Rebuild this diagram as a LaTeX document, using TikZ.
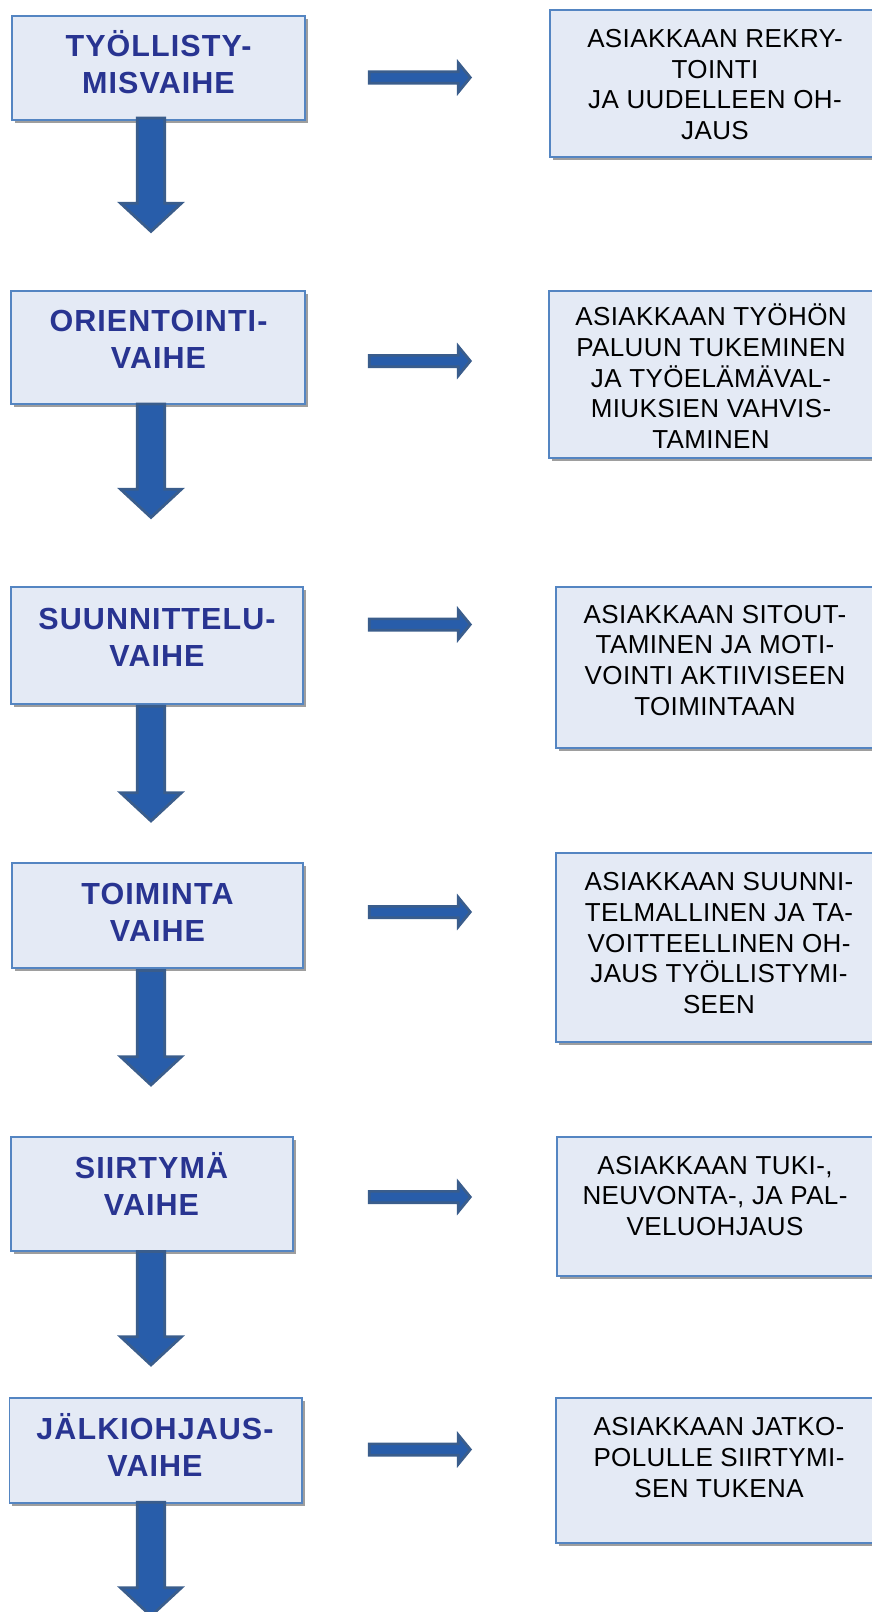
\documentclass[tikz,border=0pt]{standalone}
\usepackage{fontspec}
\setmainfont{Liberation Sans}
\newfontfamily\phasefont[LetterSpace=3.5]{Liberation Sans}
\newfontfamily\descfont[LetterSpace=1.5]{Liberation Sans}
\usetikzlibrary{calc,shadows}
\definecolor{boxfill}{RGB}{228,234,245}
\definecolor{boxline}{RGB}{84,133,194}
\definecolor{shadowgray}{RGB}{158,158,158}
\definecolor{arrfill}{RGB}{40,93,170}
\definecolor{arrline}{RGB}{58,93,140}
\definecolor{phasenavy}{RGB}{40,52,145}
\newcommand\phasedown[2]{%
  \draw[blockarrow] ($(#1)+(-13.7,0)$) -- ($(#1)+(13.7,0)$) -- ($(#2)+(13.7,-28.3)$) -- ($(#2)+(30.5,-28.3)$) -- (#2) -- ($(#2)+(-30.5,-28.3)$) -- ($(#2)+(-13.7,-28.3)$) -- cycle;}
\newcommand\phaseright[2]{%
  \draw[blockarrow] ($(#1)+(0,-5.65)$) -- ($(#2)+(-12,-5.65)$) -- ($(#2)+(-12,-14.65)$) -- (#2) -- ($(#2)+(-12,14.65)$) -- ($(#2)+(-12,5.65)$) -- ($(#1)+(0,5.65)$) -- cycle;}
\begin{document}
\begin{tikzpicture}[x=1bp,y=-1bp,
  phasebox/.style={draw=boxline, line width=1.8bp, fill=boxfill, rectangle, inner sep=0pt,
    drop shadow={shadow xshift=3bp, shadow yshift=-3bp, fill=shadowgray, opacity=1}},
  phasetext/.style={text=phasenavy, font=\phasefont\fontsize{30.5bp}{37bp}\selectfont\bfseries, align=center, inner sep=0pt},
  desctext/.style={text=black, font=\descfont\fontsize{26bp}{30.7bp}\selectfont, align=center, inner sep=0pt},
  blockarrow/.style={draw=arrline, fill=arrfill, line width=2.7bp, line join=miter}
]
\useasboundingbox (0,0) rectangle (871,1612);
\coordinate (ax) at (151,0);

% left phase boxes
\node[phasebox, minimum width=293bp, minimum height=104bp] (L1) at (158.5,68) {};
\node[phasebox, minimum width=294bp, minimum height=113bp] (L2) at (158,347.5) {};
\node[phasebox, minimum width=292bp, minimum height=117bp] (L3) at (157,645.5) {};
\node[phasebox, minimum width=291bp, minimum height=105bp] (L4) at (157.5,915.5) {};
\node[phasebox, minimum width=282bp, minimum height=114bp] (L5) at (152,1194) {};
\node[phasebox, minimum width=292.5bp, minimum height=105bp] (L6) at (155.75,1450.5) {};

\node[phasetext] (tL1) at (158.5,62.5) {TYÖLLISTY-\\MISVAIHE};
\node[phasetext] (tL2) at (158.5,339.4) {ORIENTOINTI-\\VAIHE};
\node[phasetext] (tL3) at (157,637.4) {SUUNNITTELU-\\VAIHE};
\node[phasetext] (tL4) at (157.5,912) {TOIMINTA\\VAIHE};
\node[phasetext] (tL5) at (151.5,1184) {SIIRTYMÄ\\VAIHE};
\node[phasetext] (tL6) at (155,1444.5) {JÄLKIOHJAUS-\\VAIHE};

% right description boxes
\node[phasebox, minimum width=335bp, minimum height=147bp] (R1) at (717.5,83.5) {};
\node[phasebox, minimum width=336bp, minimum height=167bp] (R2) at (717,374.5) {};
\node[phasebox, minimum width=329bp, minimum height=161bp] (R3) at (720.5,667.5) {};
\node[phasebox, minimum width=329bp, minimum height=189bp] (R4) at (720.5,947.5) {};
\node[phasebox, minimum width=328bp, minimum height=139bp] (R5) at (721,1206.5) {};
\node[phasebox, minimum width=329bp, minimum height=145bp] (R6) at (720.5,1470.5) {};

\node[desctext] (tR1) at (715,84.4) {ASIAKKAAN REKRY-\\TOINTI\\JA UUDELLEEN OH-\\JAUS};
\begin{scope}
  \clip (540,280) rectangle (880,447);
  \node[desctext] (tR2) at (711,376.3) {ASIAKKAAN TYÖHÖN\\PALUUN TUKEMINEN\\JA TYÖELÄMÄVAL-\\MIUKSIEN VAHVIS-\\TAMINEN};
\end{scope}
\node[desctext] (tR3) at (715,660.2) {ASIAKKAAN SITOUT-\\TAMINEN JA MOTI-\\VOINTI AKTIIVISEEN\\TOIMINTAAN};
\node[desctext] (tR4) at (719,943.3) {ASIAKKAAN SUUNNI-\\TELMALLINEN JA TA-\\VOITTEELLINEN OH-\\JAUS TYÖLLISTYMI-\\SEEN};
\node[desctext] (tR5) at (715,1196) {ASIAKKAAN TUKI-,\\NEUVONTA-, JA PAL-\\VELUOHJAUS};
\node[desctext] (tR6) at (719,1457.4) {ASIAKKAAN JATKO-\\POLULLE SIIRTYMI-\\SEN TUKENA};

% down arrows
\coordinate (d1s) at ($(L1.south -| ax)+(0,-3)$);
\coordinate (d1t) at (151,231.5);
\coordinate (d2s) at ($(L2.south -| ax)+(0,-1)$);
\coordinate (d2t) at (151,517.5);
\coordinate (d3s) at ($(L3.south -| ax)+(0,1.3)$);
\coordinate (d3t) at (151,821);
\coordinate (d4s) at ($(L4.south -| ax)+(0,1.6)$);
\coordinate (d4t) at (151,1085);
\coordinate (d5s) at ($(L5.south -| ax)+(0,-0.4)$);
\coordinate (d5t) at (151,1365);
\coordinate (d6s) at ($(L6.south -| ax)+(0,-1.7)$);
\coordinate (d6t) at (151,1616);
\phasedown{d1s}{d1t}
\phasedown{d2s}{d2t}
\phasedown{d3s}{d3t}
\phasedown{d4s}{d4t}
\phasedown{d5s}{d5t}
\phasedown{d6s}{d6t}

% right arrows
\coordinate (h1s) at (369.2,77.5);   \coordinate (h1e) at (470.3,77.5);
\coordinate (h2s) at (369.2,361);    \coordinate (h2e) at (470.3,361);
\coordinate (h3s) at (369.2,624.5);  \coordinate (h3e) at (470.3,624.5);
\coordinate (h4s) at (369.2,912);    \coordinate (h4e) at (470.3,912);
\coordinate (h5s) at (369.2,1197);   \coordinate (h5e) at (470.3,1197);
\coordinate (h6s) at (369.2,1449.5); \coordinate (h6e) at (470.3,1449.5);
\phaseright{h1s}{h1e}
\phaseright{h2s}{h2e}
\phaseright{h3s}{h3e}
\phaseright{h4s}{h4e}
\phaseright{h5s}{h5e}
\phaseright{h6s}{h6e}
\end{tikzpicture}
\end{document}
